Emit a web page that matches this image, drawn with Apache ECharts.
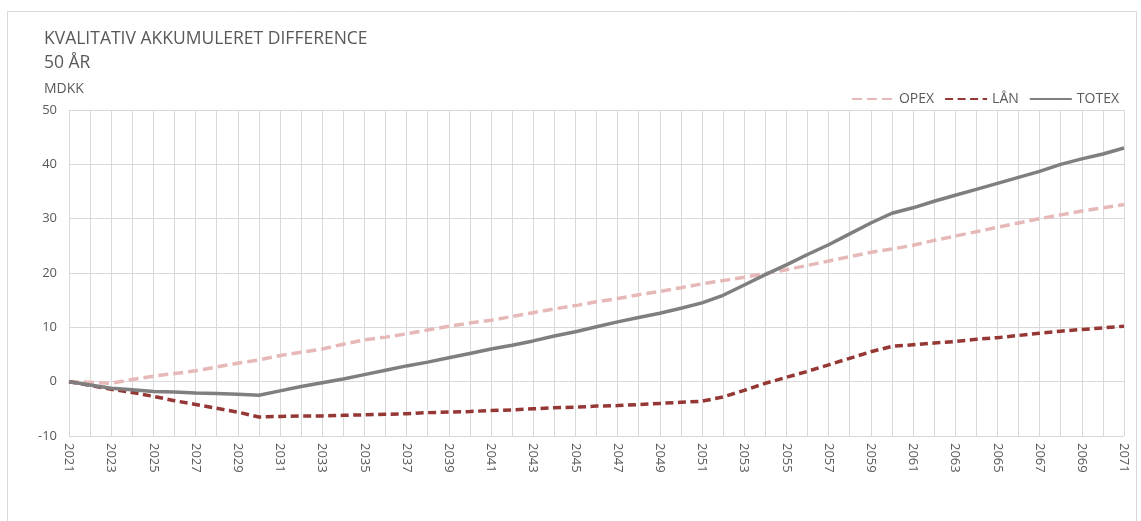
<!DOCTYPE html>
<html>
<head>
<meta charset="utf-8">
<script src="https://cdn.jsdelivr.net/npm/echarts@6/dist/echarts.min.js"></script>
<style>
  html, body { margin: 0; padding: 0; background: #ffffff; }
  #chart { width: 1141px; height: 521px; }
</style>
</head>
<body>
<div id="chart"></div>
<script>
// Years 2021–2071
const years = [];
for (let y = 2021; y <= 2071; y++) years.push(String(y));

// Accumulated differences, MDKK
const opex = [
  0, -0.1, -0.3, 0.4, 1.0, 1.5, 2.0, 2.7, 3.4, 4.0,
  4.8, 5.4, 6.0, 6.9, 7.7, 8.2, 8.8, 9.5, 10.2, 10.8,
  11.3, 12.0, 12.7, 13.4, 14.0, 14.7, 15.3, 16.0, 16.6, 17.3,
  18.0, 18.6, 19.2, 19.9, 20.6, 21.4, 22.2, 23.0, 23.8, 24.4,
  25.1, 26.0, 26.8, 27.6, 28.4, 29.2, 30.0, 30.7, 31.4, 32.0,
  32.6
];
const laan = [
  0, -0.7, -1.4, -2.0, -2.7, -3.5, -4.2, -4.9, -5.6, -6.5,
  -6.4, -6.3, -6.3, -6.2, -6.1, -6.0, -5.9, -5.7, -5.6, -5.5,
  -5.3, -5.2, -5.0, -4.8, -4.7, -4.5, -4.4, -4.2, -4.0, -3.8,
  -3.6, -2.8, -1.6, -0.3, 0.8, 1.9, 3.1, 4.3, 5.5, 6.5,
  6.8, 7.1, 7.4, 7.8, 8.1, 8.5, 8.9, 9.3, 9.6, 9.9,
  10.2
];
const totex = [
  0, -0.6, -1.2, -1.5, -1.8, -1.9, -2.1, -2.2, -2.3, -2.5,
  -1.7, -0.9, -0.2, 0.5, 1.3, 2.1, 2.9, 3.6, 4.4, 5.2,
  6.0, 6.7, 7.5, 8.4, 9.2, 10.1, 11.0, 11.8, 12.6, 13.5,
  14.5, 15.9, 17.8, 19.7, 21.5, 23.4, 25.2, 27.2, 29.2, 31.0,
  32.0, 33.2, 34.3, 35.4, 36.5, 37.6, 38.7, 40.0, 41.0, 41.9,
  43.0
];

const FONT = 'Open Sans';
const TXT = '#595959';
const GRID = '#d9d9d9';

const chart = echarts.init(document.getElementById('chart'));
chart.setOption({
  animation: false,
  backgroundColor: '#ffffff',
  textStyle: { fontFamily: FONT, color: TXT },
  title: {
    text: 'KVALITATIV AKKUMULERET DIFFERENCE\n50 ÅR',
    left: 39,
    top: 22,
    textStyle: { fontFamily: FONT, fontSize: 17.5, fontWeight: 'normal', color: TXT, lineHeight: 24 }
  },
  graphic: [
    {
      type: 'rect',
      shape: { x: 7.5, y: 11.5, width: 1129, height: 520 },
      style: { fill: 'none', stroke: GRID, lineWidth: 1 },
      silent: true
    },
    {
      type: 'text',
      left: 44,
      top: 82,
      style: { text: 'MDKK', font: '14px "Open Sans"', fill: TXT }
    }
  ],
  legend: {
    right: 17,
    top: 87,
    itemWidth: 42,
    itemHeight: 4,
    itemGap: 10,
    itemStyle: { opacity: 0 },
    textStyle: { fontFamily: FONT, fontSize: 14, color: TXT },
    data: ['OPEX', 'LÅN', 'TOTEX']
  },
  grid: { left: 69, right: 17, top: 110, bottom: 85, containLabel: false },
  xAxis: {
    type: 'category',
    data: years,
    boundaryGap: false,
    axisLine: { show: true, lineStyle: { color: GRID } },
    axisTick: { show: false },
    axisLabel: {
      interval: 1,
      rotate: -90,
      margin: 7,
      fontFamily: FONT,
      fontSize: 13,
      color: TXT
    },
    splitLine: { show: true, interval: 0, lineStyle: { color: GRID, width: 1 } }
  },
  yAxis: {
    type: 'value',
    min: -10,
    max: 50,
    interval: 10,
    axisLine: { show: false },
    axisTick: { show: false },
    axisLabel: { fontFamily: FONT, fontSize: 13, color: TXT, margin: 12 },
    splitLine: { show: true, lineStyle: { color: GRID, width: 1 } }
  },
  series: [
    {
      name: 'OPEX',
      type: 'line',
      data: opex,
      symbol: 'none',
      color: '#e6b9b8',
      lineStyle: { color: '#e6b9b8', width: 3.5, type: [10, 5] },
      z: 2
    },
    {
      name: 'LÅN',
      type: 'line',
      data: laan,
      symbol: 'none',
      color: '#953735',
      lineStyle: { color: '#953735', width: 3.5, type: [8, 4.5] },
      z: 3
    },
    {
      name: 'TOTEX',
      type: 'line',
      data: totex,
      symbol: 'none',
      color: '#7f7f7f',
      lineStyle: { color: '#7f7f7f', width: 3.5 },
      z: 4
    }
  ]
});
</script>
</body>
</html>
